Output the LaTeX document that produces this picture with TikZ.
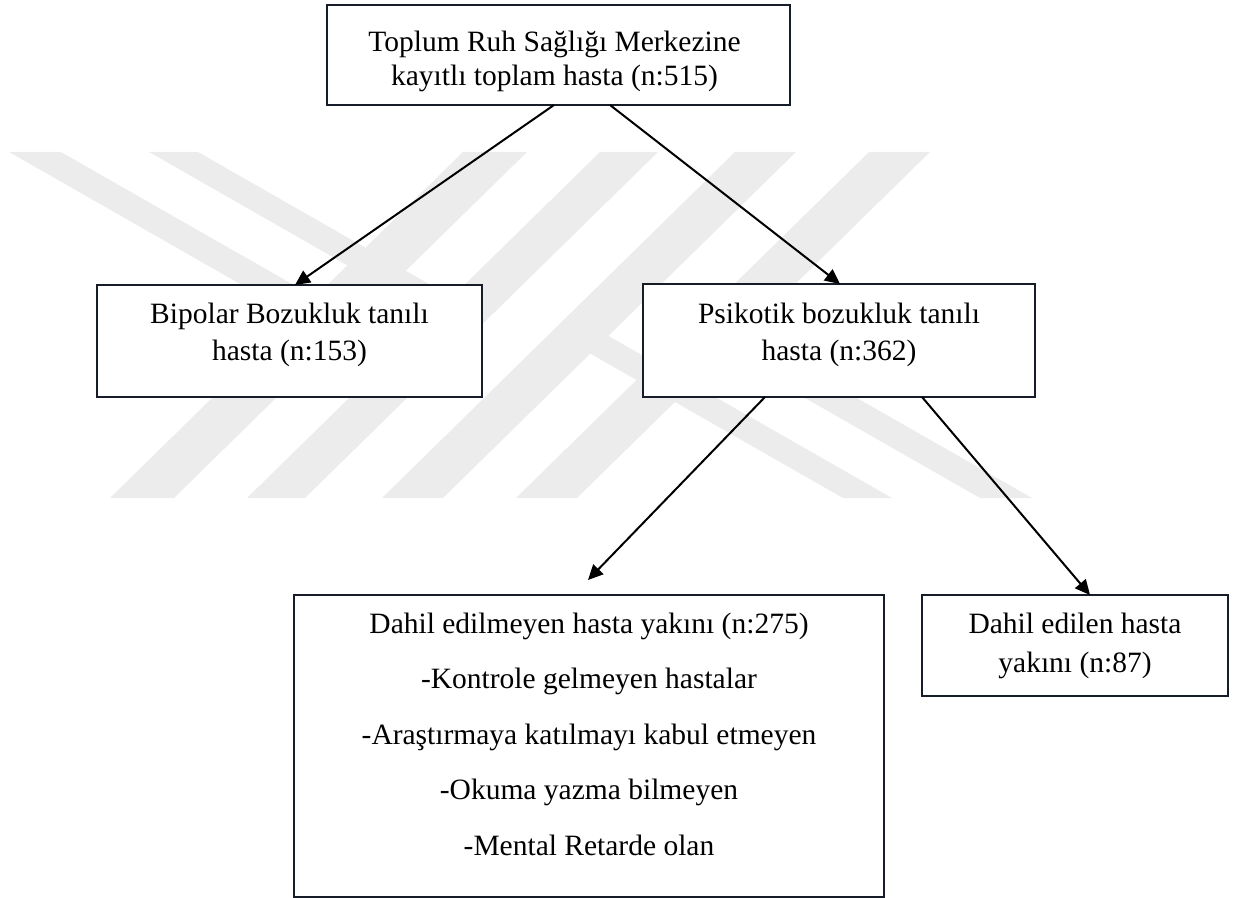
\documentclass[tikz,border=0pt]{standalone}
\usepackage{fontspec}
\setmainfont{Liberation Serif}
\usetikzlibrary{arrows.meta}
\definecolor{wm}{RGB}{236,236,236}
\definecolor{bord}{RGB}{22,28,40}
% #1 height, #2 width, #3 first baseline, #4 baselineskip, #5 text, #6 leftskip, #7 rightskip
\newcommand{\bxt}[7]{\parbox[c][#1][t]{#2}{\centering\leftskip=#6 plus 1fil\rightskip=#7 plus 1fil\fontsize{14.75pt}{#4}\selectfont\rule{0pt}{#3}#5\par}}
\tikzset{
  box/.style={draw=bord, line width=1.2pt, fill=white, inner sep=0pt, outer sep=0pt},
  arr/.style={line width=1pt, -{Triangle[length=7.5pt,width=7pt]}},
  band/.style={fill=wm, draw=none}
}
\begin{document}
\begin{tikzpicture}[x=0.5pt,y=-0.5pt]
\useasboundingbox (0,0) rectangle (1246,898);
% watermark
\fill[band] (463,152) -- (527,152) -- (174,498) -- (110,498) -- cycle;
\fill[band] (600,152) -- (658,152) -- (305,498) -- (247,498) -- cycle;
\fill[band] (735,152) -- (796,152) -- (443,498) -- (382,498) -- cycle;
\fill[band] (869,152) -- (930,152) -- (577,498) -- (516,498) -- cycle;
\fill[band] (9,152) -- (61,152) -- (315,297.1) -- (336.3,339) -- cycle;
\fill[band] (149,152) -- (198,152) -- (452,297.1) -- (470.6,335.8) -- cycle;
\fill[band] (1032,498) -- (980,498) -- (726,352.9) -- (704.7,311) -- cycle;
\fill[band] (892,498) -- (843,498) -- (589,352.9) -- (570.4,314.2) -- cycle;
% boxes
\node[box] (b1) at (558.5,55) {\bxt{50pt}{231.5pt}{23.5pt}{17pt}{Toplum Ruh Sağlığı Merkezine\\kayıtlı toplam hasta (n:515)}{0pt}{4pt}};
\node[box] (b2) at (289.5,341) {\bxt{56pt}{192.5pt}{19pt}{18.5pt}{Bipolar Bozukluk tanılı\\hasta (n:153)}{0pt}{0pt}};
\node[box] (b3) at (839,340.5) {\bxt{56.5pt}{196pt}{19.5pt}{18.5pt}{Psikotik bozukluk tanılı\\hasta (n:362)}{0pt}{0pt}};
\node[box] (b4) at (589,746) {\bxt{151pt}{295pt}{19pt}{27.75pt}{Dahil edilmeyen hasta yakını (n:275)\\-Kontrole gelmeyen hastalar\\-Araştırmaya katılmayı kabul etmeyen\\-Okuma yazma bilmeyen\\-Mental Retarde olan}{0pt}{0pt}};
\node[box] (b5) at (1075,645.5) {\bxt{50.5pt}{153pt}{19pt}{19.5pt}{Dahil edilen hasta\\yakını (n:87)}{0pt}{0pt}};
\coordinate (t4) at (588,580);
% connectors
\draw[arr] ([xshift=-2.25pt]b1.south) -- ([xshift=2.75pt]b2.north);
\draw[arr] ([xshift=25.75pt]b1.south) -- ([xshift=0.5pt]b3.north);
\draw[arr] ([xshift=-37pt]b3.south) -- (t4);
\draw[arr] ([xshift=41.5pt]b3.south) -- ([xshift=7.5pt]b5.north);
\end{tikzpicture}
\end{document}
